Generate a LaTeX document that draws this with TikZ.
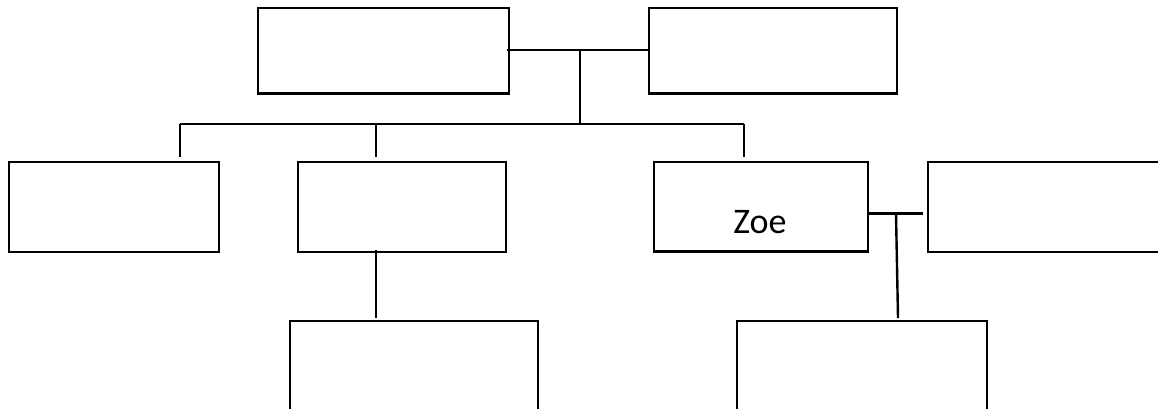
\documentclass[tikz,border=0pt]{standalone}
\usepackage{fontspec}
\setmainfont{Carlito}
\begin{document}
\begin{tikzpicture}[x=1pt,y=-1pt,
  famebox/.style={draw=black,line width=2.6pt,inner sep=0pt,fill=white},
  link/.style={draw=black,line width=2.4pt}]
\useasboundingbox (0,0) rectangle (1158,408);
\clip (0,0) rectangle (1158,408);
\fill[white] (0,0) rectangle (1158,408);
% boxes
\node[famebox,minimum width=251pt,minimum height=85.5pt] (tl) at (383.5,50.75) {};
\node[famebox,minimum width=248pt,minimum height=85.5pt] (tr) at (773,50.75) {};
\node[famebox,minimum width=210pt,minimum height=90pt] (r1) at (114,207) {};
\node[famebox,minimum width=208pt,minimum height=90pt] (r2) at (402,207) {};
\node[famebox,minimum width=214pt,minimum height=89.5pt] (zoe) at (761,206.75) {};
\node[anchor=base,inner sep=0pt,font=\fontsize{36}{40}\selectfont] (zoet) at (760,233) {Zoe};
\node[famebox,minimum width=242pt,minimum height=90pt] (r4) at (1049,207) {};
\node[famebox,minimum width=248pt,minimum height=109pt] (b1) at (414,375.5) {};
\node[famebox,minimum width=250pt,minimum height=109pt] (b2) at (862,375.5) {};
% connector points
\coordinate (m1) at (580,50);
\coordinate (m2) at (580,124);
\coordinate (hl) at (180,124);
\coordinate (hr) at (744,124);
\coordinate (h2) at (376,124);
\coordinate (d1) at (180,157);
\coordinate (d2) at (376,157);
\coordinate (d3) at (744,157);
\coordinate (v1) at (376,250);
\coordinate (v1e) at (376,318);
\coordinate (m3) at (896,213.5);
\coordinate (m3e) at (898,318);
% connectors
\draw[link] ([xshift=-3pt]tl.east |- m1) -- (tr.west |- m1);
\draw[link] (m1) -- (m2);
\draw[link] (hl) -- (hr);
\draw[link] (hl) -- (d1);
\draw[link] (h2) -- (d2);
\draw[link] (hr) -- (d3);
\draw[link] (v1) -- (v1e);
\draw[link] (zoe.east |- m3) -- ([xshift=-4pt]r4.west |- m3);
\draw[link] (m3) -- (m3e);
\end{tikzpicture}
\end{document}
